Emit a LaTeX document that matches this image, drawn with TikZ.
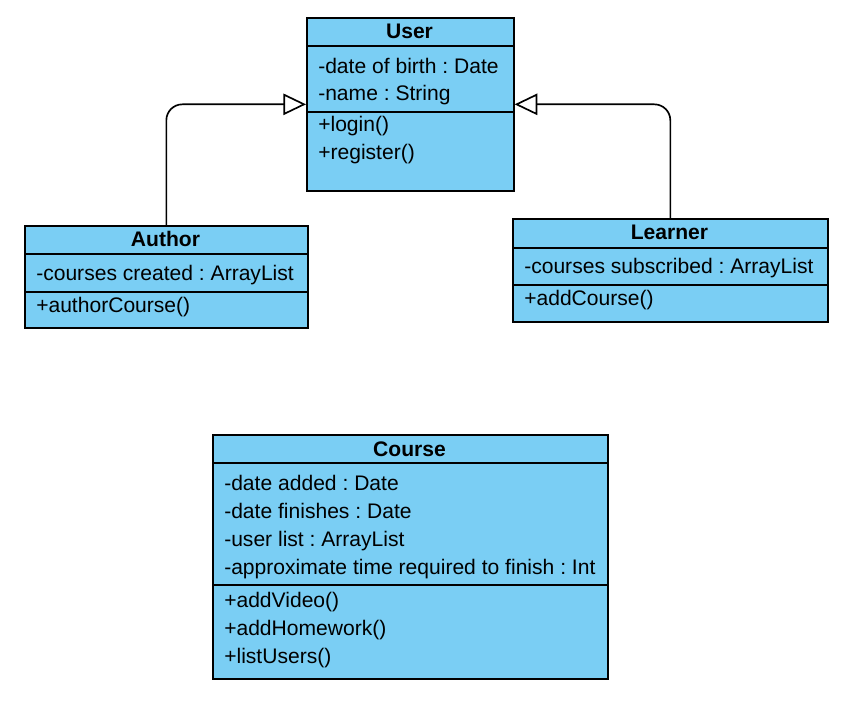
\documentclass[tikz,border=0pt]{standalone}
\usepackage{fontspec}
\setmainfont{Liberation Sans}
\usetikzlibrary{arrows.meta}
\definecolor{umlblue}{RGB}{122,206,244}
\frenchspacing
\begin{document}
\begin{tikzpicture}[x=0.75pt,y=-0.75pt,
 classbox/.style={draw=black, fill=umlblue, line width=1.25pt, rectangle, inner sep=0pt, anchor=north west},
 sepline/.style={draw=black, line width=1.25pt},
 title/.style={font=\fontsize{15.8}{18}\selectfont\bfseries, anchor=base, inner sep=0pt},
 member/.style={font=\fontsize{15.8}{18}\selectfont, anchor=base west, inner sep=0pt},
 gen/.style={draw=black, line width=1.25pt, rounded corners=12pt, -{Triangle[open, length=17pt, width=16pt, fill=white]}}
]
\useasboundingbox (0,0) rectangle (856,709);

% User
\node[classbox, minimum width=155.25pt, minimum height=129.75pt] (user) at (306,17) {};
\draw[sepline] (user.west |- 0,46) -- (user.east |- 0,46);
\draw[sepline] (user.west |- 0,112) -- (user.east |- 0,112);
\node[title] (usert) at (409.5,38.3) {User};
\node[member] (u1) at (318,73.3) {-date of birth : Date};
\node[member] (u2) at (318,101) {-name : String};
\node[member] (u3) at (318,132) {+login()};
\node[member] (u4) at (318,159.5) {+register()};

% Author
\node[classbox, minimum width=212.25pt, minimum height=76.5pt] (author) at (24,225) {};
\draw[sepline] (author.west |- 0,254) -- (author.east |- 0,254);
\draw[sepline] (author.west |- 0,292) -- (author.east |- 0,292);
\node[title] (authort) at (165.5,246.7) {Author};
\node[member] (a1) at (36,280.5) {-courses created : ArrayList};
\node[member] (a2) at (36,312) {+authorCourse()};

% Learner
\node[classbox, minimum width=236.25pt, minimum height=77.25pt] (learner) at (512,218) {};
\draw[sepline] (learner.west |- 0,248) -- (learner.east |- 0,248);
\draw[sepline] (learner.west |- 0,285) -- (learner.east |- 0,285);
\node[title] (learnert) at (669.5,239.3) {Learner};
\node[member] (l1) at (524,273.5) {-courses subscribed : ArrayList};
\node[member] (l2) at (524,305) {+addCourse()};

% Course
\node[classbox, minimum width=296.25pt, minimum height=183pt] (course) at (212,434) {};
\draw[sepline] (course.west |- 0,463) -- (course.east |- 0,463);
\draw[sepline] (course.west |- 0,585) -- (course.east |- 0,585);
\node[title] (courset) at (409.5,456.5) {Course};
\node[member] (c1) at (224,490) {-date added : Date};
\node[member] (c2) at (224,518) {-date finishes : Date};
\node[member] (c3) at (224,546) {-user list : ArrayList};
\node[member] (c4) at (224,574) {-approximate time required to finish : Int};
\node[member] (c5) at (224,607) {+addVideo()};
\node[member] (c6) at (224,635) {+addHomework()};
\node[member] (c7) at (224,663) {+listUsers()};

% Generalizations
\draw[gen] (author.north) |- (user.west);
\draw[gen] (learner.north) |- (user.east);
\end{tikzpicture}
\end{document}
